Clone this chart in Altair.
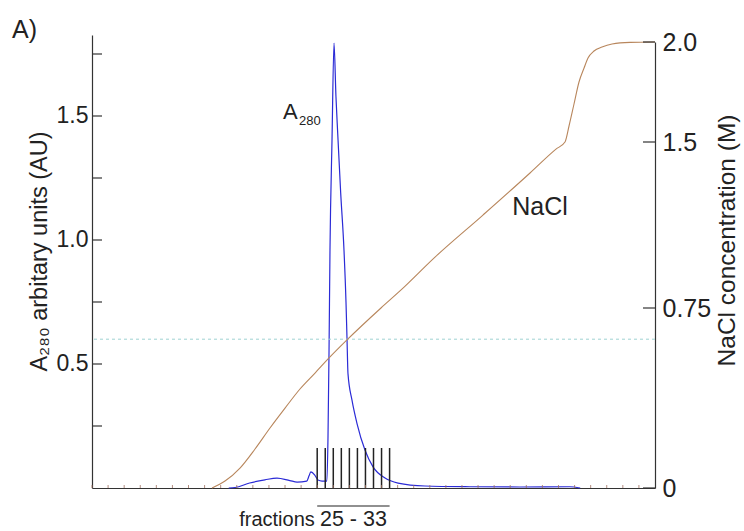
import altair as alt
import pandas as pd

# ---- data ----
# elution volume (arbitrary run units) vs A280
vol_a280 = [17.0, 17.8, 19.6, 21.5, 23.0, 24.6, 25.5, 26.7, 27.0, 27.2, 27.7, 28.1, 28.6, 29.2,
            29.34, 29.47, 29.59, 29.84, 30.09, 30.33, 30.55, 30.92, 31.33, 31.58, 31.70, 31.83,
            32.32, 32.95, 33.94, 34.94, 36.43, 38.05, 41.4, 47.0, 53.2, 59.4, 60.7]
a280 = [0.0, 0.002, 0.02, 0.033, 0.04, 0.03, 0.024, 0.028, 0.05, 0.065, 0.052, 0.032, 0.028, 0.028,
        0.2, 0.55, 0.96, 1.4, 1.794, 1.58, 1.43, 1.19, 0.96, 0.75, 0.61, 0.46,
        0.355, 0.26, 0.153, 0.085, 0.04, 0.02, 0.008, 0.005, 0.004, 0.005, 0.0]

# elution volume vs NaCl concentration (M)
vol_nacl = [14.92, 16.54, 18.40, 20.27, 22.13, 24.0, 25.86, 27.73, 29.59, 31.70, 35.93, 38.29,
            42.65, 48.61, 54.46, 57.69, 58.81, 59.31, 59.93, 60.55, 61.18, 61.67, 62.42, 63.41,
            64.66, 66.90, 70.0]
nacl = [0.0, 0.029, 0.083, 0.1625, 0.25, 0.333, 0.4125, 0.479, 0.546, 0.617, 0.75, 0.827,
        0.98, 1.17, 1.36, 1.468, 1.5, 1.58, 1.69, 1.80, 1.87, 1.92, 1.955, 1.975,
        1.99, 1.998, 2.0]

fraction_edges = [28, 29, 30, 31, 32, 33, 34, 35, 36, 37]
left_labels = [0.5, 1.0, 1.5]
left_ticks = [0.25, 0.5, 0.75, 1.0, 1.25, 1.5, 1.75]
right_ticks = [0, 0.75, 1.5, 2.0]
bottom_ticks = [0, 2, 4, 6, 8, 10, 12, 14, 16, 18, 20, 22, 24, 26, 28, 30, 32, 34, 36, 38, 40,
                42, 44, 46, 48, 50, 52, 54, 56, 58, 60, 62, 64, 66, 68]
dash_level = 0.6

W, H = 563, 453
FONT = "Liberation Sans"

df_a = pd.DataFrame({"vol": vol_a280, "a280": a280})
df_n = pd.DataFrame({"vol": vol_nacl, "nacl": nacl})
df_frac = pd.DataFrame({"vol": fraction_edges})
df_lt = pd.DataFrame({"a280": left_ticks})
df_rt = pd.DataFrame({"nacl": right_ticks})
df_bt = pd.DataFrame({"vol": bottom_ticks})

xscale = alt.Scale(domain=[0, 70], nice=False, zero=False)
yleft = alt.Scale(domain=[0, 1.8266], nice=False, zero=False)
yright = alt.Scale(domain=[0, 0.75, 1.5, 2.0], range=[453, 273, 107, 7], nice=False, zero=False)

xaxis = alt.Axis(labels=False, ticks=False, title=None, grid=False, domainColor="#333",
                 domainWidth=1.2)

left_axis = alt.Axis(values=left_labels, format=".1f", tickSize=0, labelPadding=4,
                     labelFontSize=23, labelFont=FONT, labelColor="#222",
                     domainColor="#333", domainWidth=1.2, grid=False,
                     title="A₂₈₀ arbitary units (AU)", titleFont=FONT,
                     titleFontSize=23.5, titleFontWeight="normal", titleColor="#222",
                     titleAngle=270, titleAlign="center", titleBaseline="alphabetic",
                     titleX=-46, titleY=216)

right_axis = alt.Axis(orient="right", values=right_ticks, tickSize=0, labelPadding=7,
                      labelExpr="datum.value == 0 ? '0' : datum.value == 2 ? '2.0' : "
                                "datum.value == 1.5 ? '1.5' : '0.75'",
                      labelFontSize=25, labelFont=FONT, labelColor="#222",
                      domainColor="#333", domainWidth=1.2, grid=False,
                      title="NaCl concentration (M)", titleFont=FONT, titleAngle=270,
                      titleAlign="center", titleBaseline="alphabetic", titleX=79, titleY=205,
                      titleFontSize=24.5, titleFontWeight="normal", titleColor="#222")

X = alt.X("vol:Q", scale=xscale, axis=xaxis)
YL = alt.Y("a280:Q", scale=yleft, axis=left_axis)
YR = alt.Y("nacl:Q", scale=yright, axis=right_axis)

blue = alt.Chart(df_a).mark_line(color="#2b2bd6", strokeWidth=1.2, interpolate="monotone").encode(
    x=X, y=YL)

frac = alt.Chart(df_frac).mark_rule(color="#222", strokeWidth=1.5).encode(
    x=X, y=alt.value(H), y2=alt.value(H - 40))

dashed = alt.Chart(pd.DataFrame({"a280": [dash_level]})).mark_rule(
    color="#9fd3d3", strokeWidth=1, strokeDash=[3, 3]).encode(y=YL)

lticks = alt.Chart(df_lt).mark_rule(color="#333", strokeWidth=1.2).encode(
    y=YL, x=alt.value(0), x2=alt.value(10))

bticks = alt.Chart(df_bt).mark_rule(color="#a07060", strokeWidth=0.8).encode(
    x=X, y=alt.value(H), y2=alt.value(H - 3))

over = alt.Chart(pd.DataFrame({"vol": [28], "b": [37]})).mark_rule(color="#222", strokeWidth=1.2).encode(
    x=X, x2="b:Q", y=alt.value(H + 18))

frac_txt = alt.Chart(pd.DataFrame({"vol": [27.7], "t": ["fractions"]})).mark_text(
    align="right", baseline="middle", fontSize=20, font=FONT, color="#222").encode(
    x=X, y=alt.value(H + 32), text="t:N")

frac_num = alt.Chart(pd.DataFrame({"vol": [32.5], "t": ["25 - 33"]})).mark_text(
    align="center", baseline="middle", fontSize=21.5, font=FONT, color="#222").encode(
    x=X, y=alt.value(H + 32), text="t:N")

lab_a = alt.Chart(pd.DataFrame({"vol": [23.75], "a280": [1.516], "t": ["A"]})).mark_text(
    align="left", baseline="middle", fontSize=22, font=FONT, color="#222").encode(
    x=X, y=YL, text="t:N")

lab_sub = alt.Chart(pd.DataFrame({"vol": [25.75], "a280": [1.48], "t": ["280"]})).mark_text(
    align="left", baseline="middle", fontSize=13, font=FONT, color="#222").encode(
    x=X, y=YL, text="t:N")

lab_n = alt.Chart(pd.DataFrame({"vol": [55.7], "a280": [1.133], "t": ["NaCl"]})).mark_text(
    align="center", baseline="middle", fontSize=25, font=FONT, color="#222").encode(
    x=X, y=YL, text="t:N")

panel = alt.Chart(pd.DataFrame({"t": ["A)"]})).mark_text(
    align="left", baseline="middle", fontSize=25, font=FONT, color="#222").encode(
    x=alt.value(-80), y=alt.value(-5), text="t:N")

left = alt.layer(blue, dashed, lticks, frac, bticks, over, frac_txt, frac_num,
                 lab_a, lab_sub, lab_n, panel)

nacl_line = alt.Chart(df_n).mark_line(color="#b8865c", strokeWidth=1.1, interpolate="monotone").encode(
    x=X, y=YR)

rticks = alt.Chart(df_rt).mark_rule(color="#333", strokeWidth=1.2).encode(
    y=YR, x=alt.value(W - 12), x2=alt.value(W))

right = alt.layer(nacl_line, rticks)

chart = alt.layer(left, right).resolve_scale(y="independent").properties(
    width=W, height=H,
    autosize=alt.AutoSizeParams(type="none"),
    padding={"left": 92, "top": 35, "right": 89, "bottom": 43},
    background="white",
).configure_view(stroke=None)

chart.save("out.html", embed_options={"renderer": "svg", "actions": False})
